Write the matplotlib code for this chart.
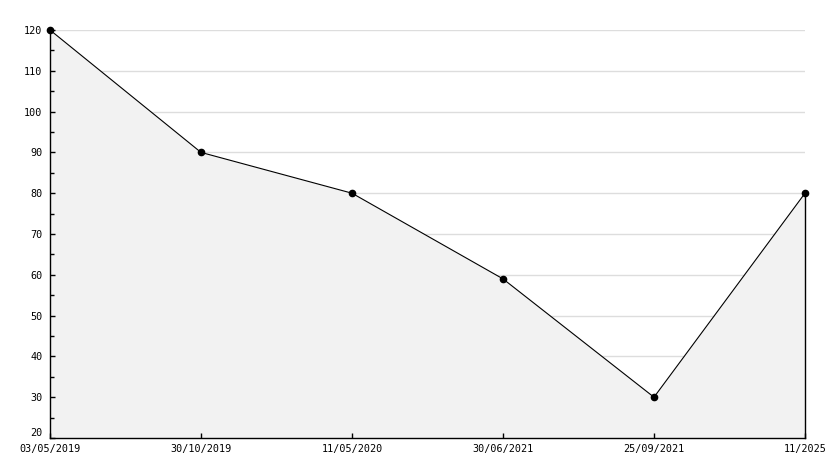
import matplotlib.pyplot as plt
import numpy as np

dates = ['03/05/2019', '30/10/2019', '11/05/2020', '30/06/2021', '25/09/2021', '11/2025']
values = [120, 90, 80, 59, 30, 80]
y_major = list(range(20, 121, 10))
y_minor = list(range(25, 120, 10))


def main():
    fig = plt.figure(figsize=(8.34, 4.68), dpi=100)
    ax = fig.add_axes([50 / 834, 30 / 468, 755 / 834, 408 / 468])

    x = np.arange(len(values))
    # grid drawn by hand so the fill hides it
    ax.hlines(y_major, x[0], x[-1], color='#dddddd', lw=1, zorder=0)
    ax.fill_between(x, values, 20, color='#f2f2f2', lw=0, zorder=1)
    ax.plot([x[-1], x[-1]], [20, values[-1]], color='black', lw=1, zorder=2, clip_on=False)
    ax.plot(x, values, color='black', lw=0.8, marker='o', ms=4.5, zorder=3, clip_on=False)

    ax.set_xlim(0, len(values) - 1)
    ax.set_ylim(20, 120)
    ax.set_yticks(y_major)
    ax.set_yticks(y_minor, minor=True)
    ax.set_xticks(x)
    ax.set_xticklabels(dates)

    for s in ['top', 'right']:
        ax.spines[s].set_visible(False)
    ax.spines['left'].set_linewidth(1)
    ax.spines['bottom'].set_linewidth(1)

    ax.tick_params(axis='y', which='major', direction='in', length=3.6, width=1, pad=5.5,
                   labelsize=7.3)
    ax.tick_params(axis='y', which='minor', direction='in', length=2.6, width=1)
    ax.tick_params(axis='x', direction='in', length=3.6, width=1, pad=4, labelsize=7.3)
    for lab in ax.get_xticklabels() + ax.get_yticklabels():
        lab.set_family('DejaVu Sans Mono')
    ax.get_yticklabels()[0].set_va('bottom')

    plt.savefig('out.png', dpi=100)


if __name__ == '__main__':
    main()
